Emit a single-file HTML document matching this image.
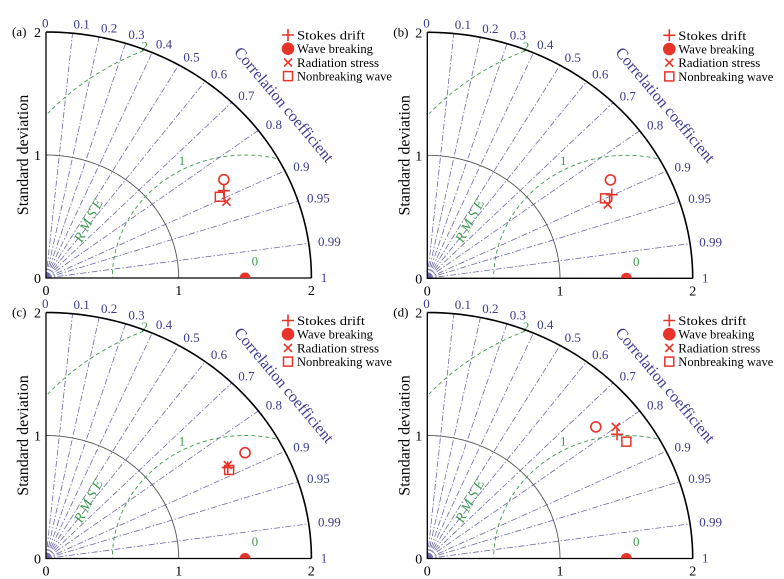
<!DOCTYPE html>
<html><head><meta charset="utf-8"><style>
html,body{margin:0;padding:0;background:#fff;}
svg{display:block;}
svg text{font-family:"Liberation Serif",serif;}
</style></head><body>
<svg id="chart" width="784" height="579" viewBox="0 0 784 579" xmlns="http://www.w3.org/2000/svg"></svg>
<script>
const panelNames = ['(a)','(b)','(c)','(d)'];
const corrTicks = [0,0.1,0.2,0.3,0.4,0.5,0.6,0.7,0.8,0.9,0.95,0.99,1];
const corrLabels = ['0','0.1','0.2','0.3','0.4','0.5','0.6','0.7','0.8','0.9','0.95','0.99','1'];
const stdTicks = [0,1,2];
const refStd = 1.5;
const rmseLevels = [1,2];
const seriesNames = ['Stokes drift','Wave breaking','Radiation stress','Nonbreaking wave'];
const stokesX = [1.34,1.39,1.37,1.43];
const stokesY = [0.71,0.68,0.74,1.01];
const breakingX = [1.34,1.38,1.50,1.27];
const breakingY = [0.80,0.80,0.86,1.07];
const radiationX = [1.36,1.36,1.37,1.42];
const radiationY = [0.62,0.60,0.76,1.07];
const nonbreakX = [1.31,1.34,1.38,1.50];
const nonbreakY = [0.66,0.65,0.72,0.95];

const svg = document.getElementById('chart');
const NS = 'http://www.w3.org/2000/svg';
const origins = [[46,278],[427.3,278.3],[46,558.5],[427.3,558.5]];
const SX = 132.7, SY = 123;
const RED = '#e8332a', NAVY = '#3b3b8f', GREEN = '#3c9a4c';
const FONT = '"Liberation Serif", serif';

function mk(tag, attrs, parent){
  const e = document.createElementNS(NS, tag);
  for (const k in attrs) e.setAttribute(k, attrs[k]);
  if (tag==='text') e.setAttribute('font-family', FONT);
  (parent||svg).appendChild(e);
  return e;
}
function arcPath(fx, fy, t0, t1, cx, cy, r, clip){
  let d = '', n = 120, started = false;
  for (let i=0;i<=n;i++){
    const t = t0 + (t1-t0)*i/n;
    const x = cx + r*Math.cos(t), y = cy + r*Math.sin(t);
    const ok = !clip || (x>=0 && y>=0 && Math.hypot(x,y)<=2.0001);
    if (ok){ d += (started?'L':'M') + fx(x).toFixed(2)+' '+fy(y).toFixed(2)+' '; started = true; }
    else started = false;
  }
  return d;
}
function marker(g, type, px, py, filled){
  let m;
  if (type==='plus'){
    m = mk('path',{d:`M${px-6} ${py}H${px+6}M${px} ${py-6}V${py+6}`,stroke:RED,'stroke-width':1.6,fill:'none'},g);
  } else if (type==='circle'){
    m = mk('circle',{cx:px,cy:py,r:filled?5.5:5,fill:filled?RED:'none',stroke:RED,'stroke-width':1.6},g);
  } else if (type==='x'){
    m = mk('path',{d:`M${px-4} ${py-4}L${px+4} ${py+4}M${px+4} ${py-4}L${px-4} ${py+4}`,stroke:RED,'stroke-width':1.6,fill:'none'},g);
  } else {
    m = mk('rect',{x:px-4.5,y:py-4.5,width:9,height:9,fill:'none',stroke:RED,'stroke-width':1.5},g);
  }
  return m;
}

origins.forEach((o,p)=>{
  const [ox,oy] = o;
  const fx = v => ox + v*SX, fy = v => oy - v*SY;
  const g = mk('g',{});
  
  
  const cid = 'clip'+p;
  const cp = mk('clipPath',{id:cid},g);
  mk('rect',{x:ox,y:oy-2*SY-2,width:2*SX+2,height:2*SY+2},cp);

  corrTicks.forEach((c,i)=>{
    const a = Math.acos(c);
    const l = mk('line',{x1:fx(0),y1:fy(0),x2:fx(2*Math.cos(a)),y2:fy(2*Math.sin(a)),stroke:'#6a6aa8','stroke-width':0.8,'stroke-dasharray':'6 2 1.5 2'},g);
    
    
    const r = 2.07;
    const t = mk('text',{x:fx(r*Math.cos(a))-(c===0?4:0),y:fy(r*Math.sin(a))+4,fill:NAVY,'font-size':13},g);
    t.textContent = corrLabels[i];
    
    
  });
  const s1 = mk('path',{d:arcPath(fx,fy,0,Math.PI/2,0,0,1,false),stroke:'#555',fill:'none','stroke-width':0.9},g);
  
  
  rmseLevels.forEach(r=>{
    const c = mk('path',{d:arcPath(fx,fy,0,Math.PI,refStd,0,r,true),stroke:GREEN,fill:'none','stroke-width':0.9,'stroke-dasharray':'4 3'},g);
    
    
  });
  [['0',refStd+0.05,0.1],['1',1.0,0.92],['2',0.72,1.85]].forEach(l=>{
    const t = mk('text',{x:fx(l[1]),y:fy(l[2]),fill:GREEN,'font-size':13},g);
    t.textContent = l[0];
    
    
  });
  const rl = mk('text',{x:0,y:0,fill:GREEN,'font-size':14,'font-style':'italic','text-anchor':'middle',transform:`translate(${fx(0.35)},${fy(0.45)}) rotate(-62)`},g);
  rl.textContent = 'R M S E';
  
  
  const oa = mk('path',{d:arcPath(fx,fy,0,Math.PI/2,0,0,2,false),stroke:'#000',fill:'none','stroke-width':1.6},g);
  
  
  const ax = mk('path',{d:`M${fx(0)} ${fy(2)}V${fy(0)}H${fx(2)}`,stroke:'#000',fill:'none','stroke-width':1.3},g);
  
  
  stdTicks.forEach(v=>{
    const ty = mk('text',{x:ox-5,y:fy(v)+5,'font-size':14,'text-anchor':'end',fill:'#000'},g);
    ty.textContent = v;
    
    
    const tx = mk('text',{x:fx(v),y:oy+17,'font-size':14,'text-anchor':'middle',fill:'#000'},g);
    tx.textContent = v;
    
    
  });
  const yt = mk('text',{x:0,y:0,'font-size':16,'text-anchor':'middle',fill:'#000',transform:`translate(${ox-18},${fy(1)}) rotate(-90)`},g);
  yt.textContent = 'Standard deviation';
  
  
  const ct = mk('text',{x:0,y:0,'font-size':16,'text-anchor':'middle',fill:NAVY,transform:`translate(${ox+234},${oy-170}) rotate(50)`},g);
  ct.textContent = 'Correlation coefficient';
  
  
  const pl = mk('text',{x:ox-34,y:oy-2*SY+4,'font-size':13,fill:'#000'},g);
  pl.textContent = panelNames[p];
  
  

  const ref = mk('circle',{cx:fx(refStd),cy:fy(0),r:5.5,fill:RED,'clip-path':`url(#${cid})`},g);
  
  
  let m;
  m = marker(g,'circle',fx(breakingX[p]),fy(breakingY[p]),false);
  
  
  m = marker(g,'rect',fx(nonbreakX[p]),fy(nonbreakY[p]),false);
  
  
  m = marker(g,'x',fx(radiationX[p]),fy(radiationY[p]),false);
  
  
  m = marker(g,'plus',fx(stokesX[p]),fy(stokesY[p]),false);
  
  

  const lg = mk('g',{},g);
  
  
  const lx = ox+242, ly0 = oy-2*SY+(p<2?3:8);
  const types = ['plus','circle','x','rect'];
  const lens = [68,76,82,95];
  seriesNames.forEach((n,i)=>{
    const yy = ly0 + i*13.7;
    const mm = marker(lg,types[i],lx,yy,types[i]==='circle');
    
    
    const t = mk('text',{x:lx+9,y:yy+4.5,'font-size':13,fill:'#000',textLength:lens[i],lengthAdjust:'spacingAndGlyphs'},lg);
    t.textContent = n;
    
    
  });
});
</script>
</body></html>
